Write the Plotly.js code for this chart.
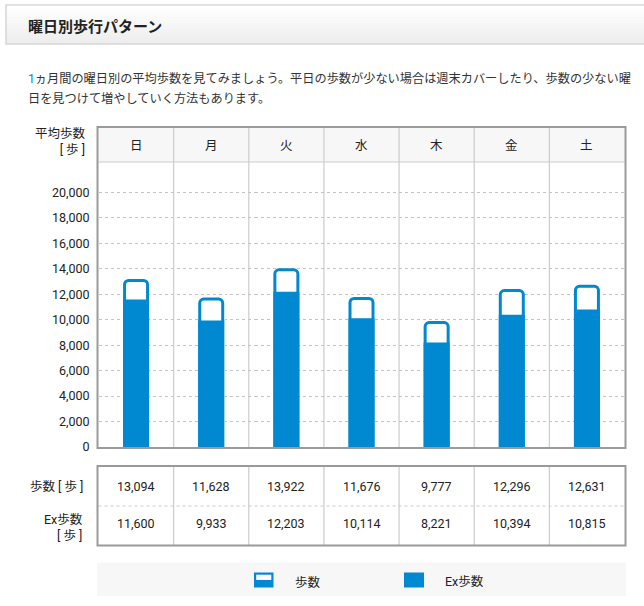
<!DOCTYPE html>
<html>
<head>
<meta charset="utf-8">
<script src="https://cdn.plot.ly/plotly-3.0.1.min.js"></script>
<style>
  html, body { margin: 0; padding: 0; background: #fff; }
  #chart { width: 644px; height: 606px; }
</style>
</head>
<body>
<div id="chart"></div>
<script>
// Weekday step pattern (1-month averages)
const days = ['日', '月', '火', '水', '木', '金', '土'];
const steps = [13094, 11628, 13922, 11676, 9777, 12296, 12631];
const exSteps = [11600, 9933, 12203, 10114, 8221, 10394, 10815];
const yTicks = [0, 2000, 4000, 6000, 8000, 10000, 12000, 14000, 16000, 18000, 20000];

const W = 644, H = 606;
const BLUE = '#0089d1';
const FONT = 'Roboto, "Noto Sans CJK JP", sans-serif';
const JP = '"Noto Sans CJK JP", sans-serif';

// pixel -> paper helpers
const px = x => x / W;
const py = y => 1 - y / H;

const plotL = 98.5, plotR = 624.5, plotT = 162, plotB = 447;
const colW = (plotR - plotL) / days.length;

const fmt = v => v.toLocaleString('en-US');

const shapes = [];
const annotations = [];

// text helper: always anchored at its vertical middle
function label(opts) {
  annotations.push(Object.assign({
    xref: 'paper', yref: 'paper', showarrow: false,
    xanchor: 'center', yanchor: 'middle'
  }, opts));
}

// page header bar with soft vertical gradient
const hTop = 5, hBot = 44, strips = 13;
for (let i = 0; i < strips; i++) {
  const t = i / (strips - 1);
  const c = Math.round(255 - t * 18);
  shapes.push({
    type: 'rect', xref: 'paper', yref: 'paper', layer: 'below',
    x0: px(6), x1: px(660),
    y0: py(hTop + (hBot - hTop) * i / strips),
    y1: py(hTop + (hBot - hTop) * (i + 1) / strips),
    fillcolor: `rgb(${c},${c},${c})`, line: { width: 0 }
  });
}
shapes.push({
  type: 'rect', xref: 'paper', yref: 'paper', layer: 'below',
  x0: px(6), x1: px(660), y0: py(hBot), y1: py(hTop),
  line: { color: '#d6d6d6', width: 1.5 }
});
label({
  x: px(26), y: py(25.5), xanchor: 'left',
  text: '<b>曜日別歩行パターン</b>',
  font: { family: JP, size: 15, color: '#222' }
});

// intro text
label({
  x: px(26), y: py(78.5), xanchor: 'left',
  text: '<span style="color:' + BLUE + '">1</span>ヵ月間の曜日別の平均歩数を見てみましょう。平日の歩数が少ない場合は週末カバーしたり、歩数の少ない曜',
  font: { family: FONT, size: 12.2, color: '#333' }
});
label({
  x: px(26), y: py(98.5), xanchor: 'left',
  text: '日を見つけて増やしていく方法もあります。',
  font: { family: FONT, size: 12.2, color: '#333' }
});

// chart header row (day names)
shapes.push({
  type: 'rect', xref: 'paper', yref: 'paper', layer: 'below',
  x0: px(plotL), x1: px(plotR), y0: py(plotT), y1: py(127),
  fillcolor: '#f7f7f7', line: { width: 0 }
});
shapes.push({
  type: 'line', xref: 'paper', yref: 'paper', layer: 'below',
  x0: px(plotL), x1: px(plotR), y0: py(plotT), y1: py(plotT),
  line: { color: '#cccccc', width: 1.2 }
});
days.forEach(d => {
  label({
    xref: 'x', x: d, y: py(144.5), text: d,
    font: { family: JP, size: 12.5, color: '#222' }
  });
});

// column dividers through header + plot, and through the value table
for (let i = 0; i < days.length - 1; i++) {
  shapes.push({
    type: 'line', xref: 'x', yref: 'paper', layer: 'below',
    x0: i + 0.5, x1: i + 0.5, y0: py(448), y1: py(127),
    line: { color: '#cccccc', width: 1.2 }
  });
  shapes.push({
    type: 'line', xref: 'x', yref: 'paper', layer: 'below',
    x0: i + 0.5, x1: i + 0.5, y0: py(545.5), y1: py(466),
    line: { color: '#cccccc', width: 1.2 }
  });
}

// chart frame
shapes.push({
  type: 'rect', xref: 'paper', yref: 'paper', layer: 'above',
  x0: px(97.5), x1: px(625.5), y0: py(448), y1: py(127),
  line: { color: '#9a9a9a', width: 2 }
});

// y-axis caption
label({
  x: px(88), y: py(141.5), xanchor: 'right', align: 'right',
  text: '平均歩数<br>[ 歩 ]',
  font: { family: FONT, size: 12.5, color: '#222' }
});

// value table
shapes.push({
  type: 'rect', xref: 'paper', yref: 'paper', layer: 'above',
  x0: px(97.5), x1: px(625.5), y0: py(545.5), y1: py(466),
  line: { color: '#9a9a9a', width: 2 }
});
shapes.push({
  type: 'line', xref: 'paper', yref: 'paper', layer: 'below',
  x0: px(98.5), x1: px(624.5), y0: py(506), y1: py(506),
  line: { color: '#cccccc', width: 1, dash: 'dot' }
});
label({
  x: px(85.5), y: py(486), xanchor: 'right',
  text: '歩数 [ 歩 ]', font: { family: FONT, size: 12.5, color: '#222' }
});
label({
  x: px(85.5), y: py(527), xanchor: 'right', align: 'right',
  text: 'Ex歩数<br>[ 歩 ]', font: { family: FONT, size: 12.5, color: '#222' }
});
days.forEach((d, i) => {
  label({
    xref: 'x', x: d, y: py(486), text: fmt(steps[i]),
    font: { family: FONT, size: 12.5, color: '#222' }
  });
  label({
    xref: 'x', x: d, y: py(523), text: fmt(exSteps[i]),
    font: { family: FONT, size: 12.5, color: '#222' }
  });
});

// legend strip
shapes.push({
  type: 'rect', xref: 'paper', yref: 'paper', layer: 'below',
  x0: px(97), x1: px(626), y0: py(596), y1: py(562.5),
  fillcolor: '#f7f7f7', line: { width: 0 }
});
shapes.push({
  type: 'rect', xref: 'paper', yref: 'paper', layer: 'above',
  x0: px(254), x1: px(273.5), y0: py(587.5), y1: py(572.5),
  fillcolor: BLUE, line: { width: 0 }
});
shapes.push({
  type: 'rect', xref: 'paper', yref: 'paper', layer: 'above',
  x0: px(256.2), x1: px(271.3), y0: py(580), y1: py(574.7),
  fillcolor: '#ffffff', line: { width: 0 }
});
shapes.push({
  type: 'rect', xref: 'paper', yref: 'paper', layer: 'above',
  x0: px(404), x1: px(424), y0: py(587.5), y1: py(572.5),
  fillcolor: BLUE, line: { width: 0 }
});
label({
  x: px(292.5), y: py(581), xanchor: 'left',
  text: '歩数', font: { family: JP, size: 12.5, color: '#222' }
});
label({
  x: px(443), y: py(581), xanchor: 'left',
  text: 'Ex歩数', font: { family: FONT, size: 12.5, color: '#222' }
});

// bars: outlined total steps, solid Ex steps overlaid from the base
const traces = [
  {
    type: 'bar', name: '歩数', x: days, y: steps,
    width: 23 / colW,
    marker: { color: '#ffffff', line: { color: BLUE, width: 3 }, cornerradius: 4 },
    hoverinfo: 'y'
  },
  {
    type: 'bar', name: 'Ex歩数', x: days, y: exSteps,
    width: 26 / colW,
    marker: { color: BLUE, line: { width: 0 } },
    hoverinfo: 'y'
  }
];

const layout = {
  width: W, height: H,
  margin: { l: 0, r: 0, t: 0, b: 0 },
  paper_bgcolor: '#ffffff',
  plot_bgcolor: 'rgba(0,0,0,0)',
  barmode: 'overlay',
  showlegend: false,
  xaxis: {
    type: 'category', domain: [px(plotL), px(plotR)],
    range: [-0.5, days.length - 0.5],
    showticklabels: false, showgrid: false, zeroline: false, showline: false,
    fixedrange: true
  },
  yaxis: {
    domain: [py(plotB), py(plotT)],
    range: [0, 22400],
    tickmode: 'array', tickvals: yTicks, ticktext: yTicks.map(fmt),
    ticks: '', ticklabelstandoff: 8,
    tickfont: { family: FONT, size: 12.5, color: '#222' },
    showgrid: true, gridcolor: '#c4c4c4', griddash: 'dot', gridwidth: 1,
    zeroline: false, showline: false, automargin: false,
    fixedrange: true
  },
  shapes: shapes,
  annotations: annotations
};

Plotly.newPlot('chart', traces, layout, { displayModeBar: false, staticPlot: true });
</script>
</body>
</html>
